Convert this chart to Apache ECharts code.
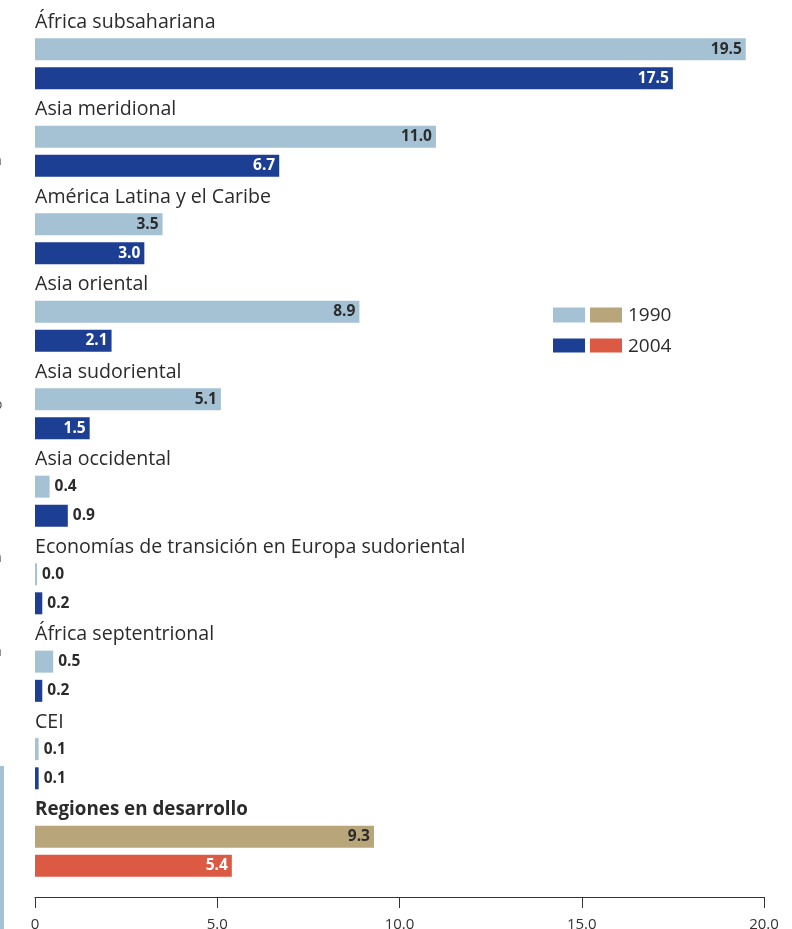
<!DOCTYPE html>
<html>
<head>
<meta charset="utf-8">
<script src="https://cdn.jsdelivr.net/npm/echarts@6/dist/echarts.min.js"></script>
<style>
html,body{margin:0;padding:0;background:#fff;}
#chart{width:792px;height:929px;}
</style>
</head>
<body>
<div id="chart"></div>
<script>
var regions = ['África subsahariana','Asia meridional','América Latina y el Caribe','Asia oriental','Asia sudoriental','Asia occidental','Economías de transición en Europa sudoriental','África septentrional','CEI','Regiones en desarrollo'];
var values1990 = [19.5, 11.0, 3.5, 8.9, 5.1, 0.4, 0.0, 0.5, 0.1, 9.3];
var values2004 = [17.5, 6.7, 3.0, 2.1, 1.5, 0.9, 0.2, 0.2, 0.1, 5.4];
var xTicks = [0, 5, 10, 15, 20];

var C_LIGHT = '#a5c2d4', C_DARK = '#1d3f93', C_TAN = '#b8a579', C_RED = '#dc5943', C_TEXT = '#2b2b2b';
var FONT = '"Open Sans", sans-serif';

var cats = [];
regions.forEach(function (r) { cats.push(r); cats.push(r + '|1990'); cats.push(r + '|2004'); });

function item(v, isTotal, is2004) {
  var small = v < 1;
  var color = isTotal ? (is2004 ? C_RED : C_TAN) : (is2004 ? C_DARK : C_LIGHT);
  var txt = small ? C_TEXT : (is2004 ? '#ffffff' : C_TEXT);
  return {
    value: v,
    itemStyle: { color: color },
    label: { position: small ? 'right' : 'insideRight', color: txt, distance: small ? 5 : 4 }
  };
}
var d1990 = [], d2004 = [];
regions.forEach(function (r, i) {
  var tot = i === regions.length - 1;
  d1990.push('-'); d1990.push(item(values1990[i], tot, false)); d1990.push('-');
  d2004.push('-'); d2004.push('-'); d2004.push(item(values2004[i], tot, true));
});

var labelCommon = {
  show: true,
  fontFamily: FONT, fontWeight: 'bold', fontSize: 15.5,
  formatter: function (p) { return p.value.toFixed(1); }
};

var chart = echarts.init(document.getElementById('chart'), null, { renderer: 'canvas' });
chart.setOption({
  animation: false,
  backgroundColor: '#ffffff',
  grid: { left: 35, width: 729, top: 5.4, height: 875, outerBoundsMode: 'none', containLabel: false },
  xAxis: {
    type: 'value', min: 0, max: 20, interval: 5, position: 'bottom', offset: 16.6,
    axisLine: { show: true, lineStyle: { color: '#333', width: 1 } },
    axisTick: { show: true, length: 11, lineStyle: { color: '#333' } },
    splitLine: { show: false },
    axisLabel: {
      margin: 20, fontFamily: FONT, fontSize: 15, color: '#333',
      formatter: function (v) { return v === 0 ? '0' : v.toFixed(1); }
    }
  },
  yAxis: {
    type: 'category', inverse: true, data: cats,
    axisLine: { show: false }, axisTick: { show: false }, splitLine: { show: false },
    axisLabel: {
      inside: true, margin: 0, interval: 0, fontFamily: FONT, fontSize: 19.6, color: C_TEXT,
      padding: [4, 0, 0, 0],
      formatter: function (v) {
        if (v.indexOf('|') >= 0) return '';
        if (v === regions[regions.length - 1]) return '{b|' + v + '}';
        return v;
      },
      rich: { b: { fontFamily: FONT, fontSize: 18.8, fontWeight: 'bold', color: C_TEXT } }
    }
  },
  series: [
    { name: '1990', type: 'bar', data: d1990, barWidth: 22, barGap: '-100%', barMinHeight: 2, label: labelCommon },
    { name: '2004', type: 'bar', data: d2004, barWidth: 22, barGap: '-100%', barMinHeight: 2, label: labelCommon }
  ],
  graphic: [
    { type: 'rect', shape: { x: 553, y: 307.5, width: 32, height: 15 }, style: { fill: C_LIGHT } },
    { type: 'rect', shape: { x: 590, y: 307.5, width: 32, height: 15 }, style: { fill: C_TAN } },
    { type: 'text', x: 628, y: 316, style: { text: '1990', fontFamily: FONT, fontSize: 19, fill: C_TEXT, verticalAlign: 'middle' } },
    { type: 'rect', shape: { x: 553, y: 338.5, width: 32, height: 14 }, style: { fill: C_DARK } },
    { type: 'rect', shape: { x: 590, y: 338.5, width: 32, height: 14 }, style: { fill: C_RED } },
    { type: 'text', x: 628, y: 347, style: { text: '2004', fontFamily: FONT, fontSize: 19, fill: C_TEXT, verticalAlign: 'middle' } },
    { type: 'rect', shape: { x: 0, y: 766, width: 4, height: 163 }, style: { fill: C_LIGHT } },
    { type: 'text', x: -6, y: 161, style: { text: 'a', fontFamily: FONT, fontSize: 14, fill: '#555', verticalAlign: 'middle' } },
    { type: 'text', x: -6, y: 405, style: { text: 'o', fontFamily: FONT, fontSize: 14, fill: '#555', verticalAlign: 'middle' } },
    { type: 'text', x: -6, y: 558, style: { text: 'a', fontFamily: FONT, fontSize: 14, fill: '#555', verticalAlign: 'middle' } },
    { type: 'text', x: -3, y: 590, style: { text: ';', fontFamily: FONT, fontSize: 14, fill: '#555', verticalAlign: 'middle' } },
    { type: 'text', x: -6, y: 652, style: { text: 'a', fontFamily: FONT, fontSize: 14, fill: '#555', verticalAlign: 'middle' } }
  ]
});
</script>
</body>
</html>
